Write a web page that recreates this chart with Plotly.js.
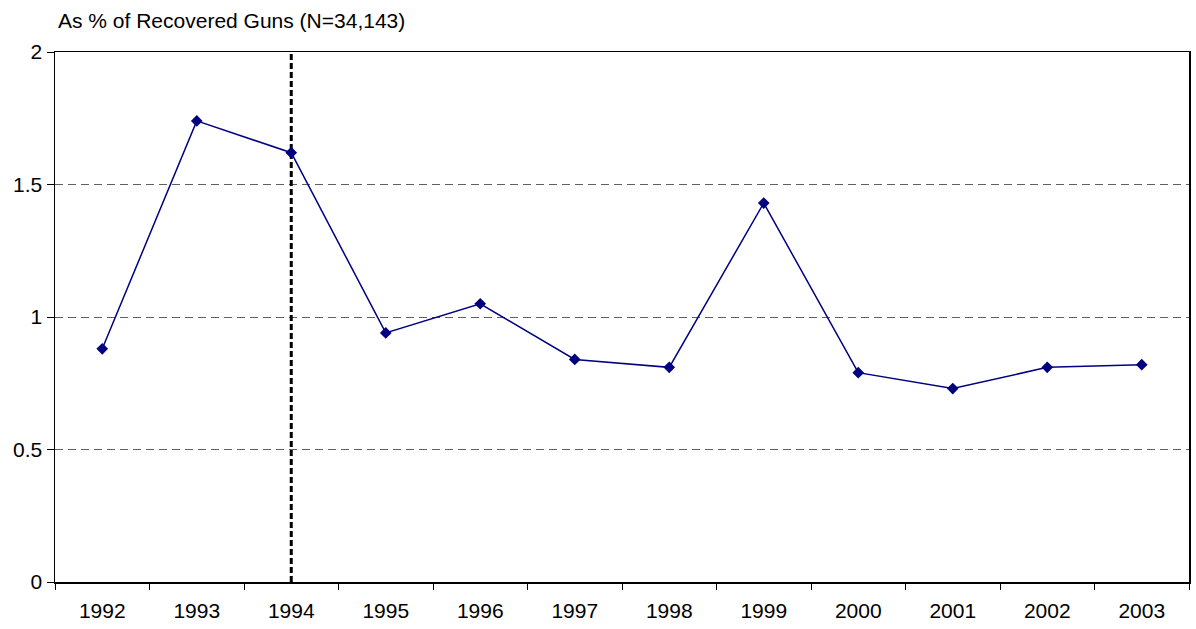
<!DOCTYPE html>
<html>
<head>
<meta charset="utf-8">
<script src="https://cdn.plot.ly/plotly-3.0.1.min.js"></script>
<style>html,body{margin:0;padding:0;background:#fff;}#chart{width:1196px;height:629px;}</style>
</head>
<body>
<div id="chart"></div>
<script>
const years = ['1992','1993','1994','1995','1996','1997','1998','1999','2000','2001','2002','2003'];
const pctRecovered = [0.88, 1.74, 1.62, 0.94, 1.05, 0.84, 0.81, 1.43, 0.79, 0.73, 0.81, 0.82];
const markerYear = ['1994','1994'];
const markerRange = [0, 2];
const yTicks = [0, 0.5, 1, 1.5, 2];
const yTickLabels = ['0', '0.5', '1', '1.5', '2'];
const titleText = 'As % of Recovered Guns (N=34,143)';

const font = {family: 'Liberation Sans, Arial, sans-serif', color: '#000'};

const traces = [
  {
    x: markerYear, y: markerRange, type: 'scatter', mode: 'lines',
    line: {color: '#000', width: 3, dash: '6px,3px'}, hoverinfo: 'skip', showlegend: false
  },
  {
    x: years, y: pctRecovered, type: 'scatter', mode: 'lines+markers',
    line: {color: '#000080', width: 1.5},
    marker: {symbol: 'diamond', size: 9, color: '#000080'},
    showlegend: false
  }
];

const layout = {
  width: 1196, height: 629,
  margin: {l: 55, r: 7, t: 52, b: 47},
  paper_bgcolor: '#fff', plot_bgcolor: '#fff',
  font: Object.assign({size: 21}, font),
  title: {
    text: titleText, xref: 'container', yref: 'container',
    x: 58/1196, xanchor: 'left', y: 1 - 21/629, yanchor: 'middle',
    font: Object.assign({size: 21}, font)
  },
  xaxis: {
    type: 'category', categoryorder: 'array', categoryarray: years,
    range: [-0.5, 11.5],
    showline: true, linecolor: '#000', linewidth: 1.5, mirror: true,
    ticks: 'outside', ticklen: 6, tickcolor: '#000', tickwidth: 1,
    tickson: 'boundaries', showgrid: false, zeroline: false,
    ticklabelstandoff: 9,
    tickfont: Object.assign({size: 21}, font)
  },
  yaxis: {
    range: [0, 2], tickvals: yTicks, ticktext: yTickLabels,
    showline: true, linecolor: '#000', linewidth: 1.5, mirror: true,
    ticks: 'outside', ticklen: 7, tickcolor: '#000', tickwidth: 1,
    showgrid: true, gridcolor: '#606060', gridwidth: 1, griddash: '8px,5px',
    zeroline: false,
    tickfont: Object.assign({size: 21}, font)
  }
};

Plotly.newPlot('chart', traces, layout, {displayModeBar: false, staticPlot: true});
</script>
</body>
</html>
